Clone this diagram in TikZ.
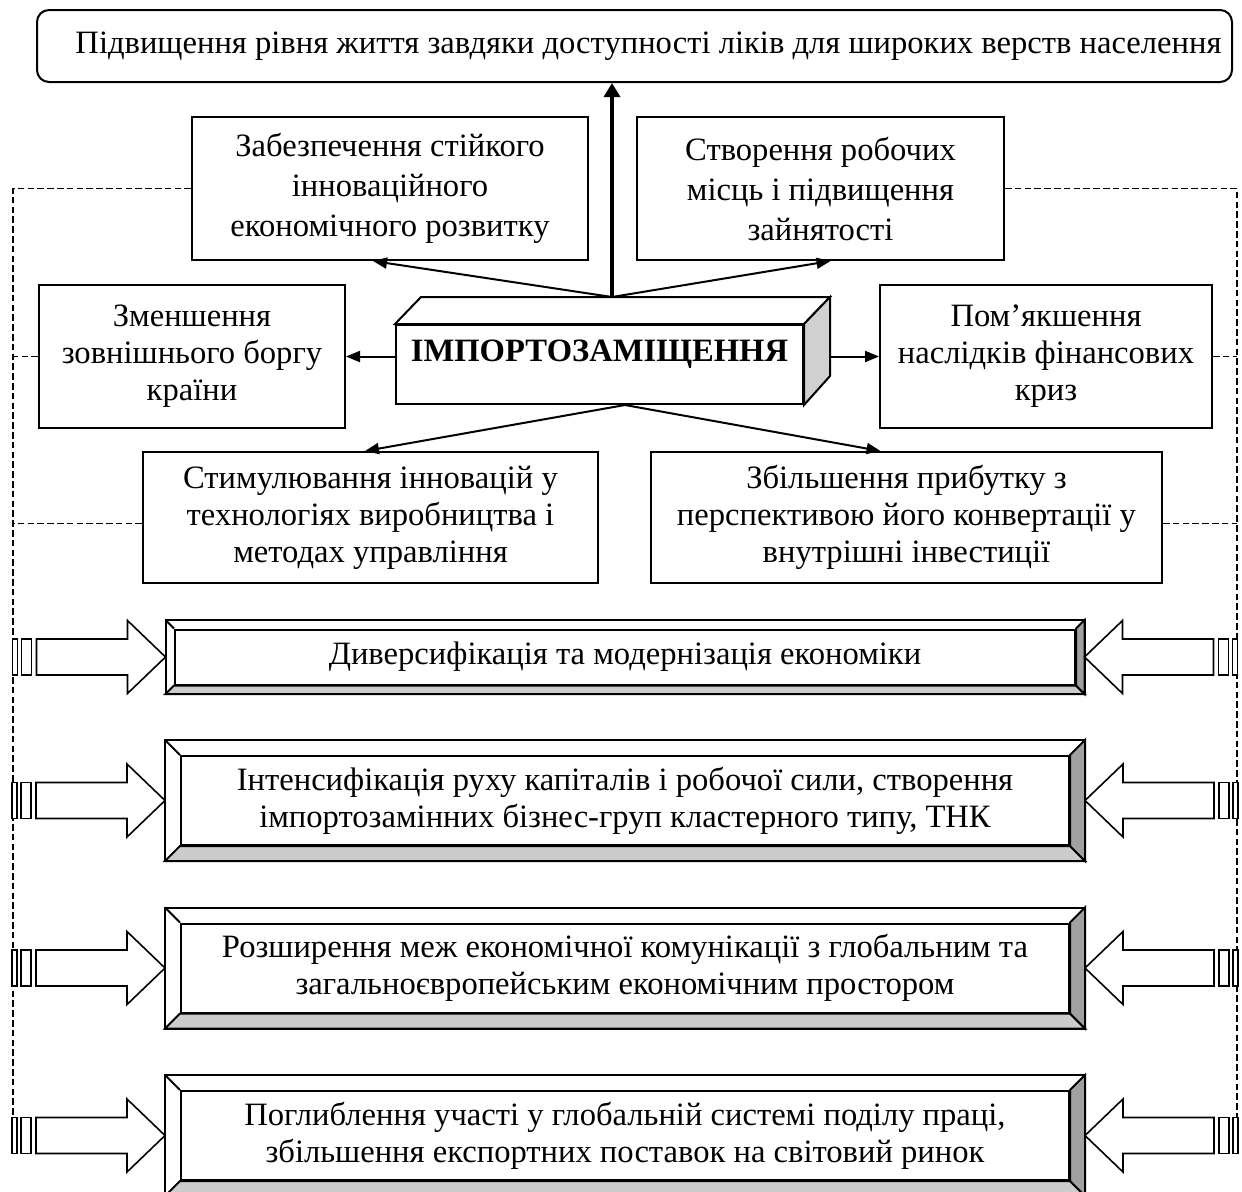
\documentclass[tikz,border=0pt]{standalone}
\usepackage{fontspec}
\setmainfont{Liberation Serif}
\usetikzlibrary{arrows.meta,positioning}
\definecolor{sidegrey}{gray}{0.82}
\definecolor{bevellight}{gray}{0.80}
\definecolor{beveldark}{gray}{0.63}

\begin{document}
\begin{tikzpicture}[x=0.5pt,y=-0.5pt,>={Triangle[length=7pt,width=5.5pt]},
    line width=1pt,font=\fontsize{16.3}{18.5}\selectfont,
    box/.style={draw,align=center,inner sep=0pt},
    bigarrow/.style={line width=1.7pt,-{Triangle[length=7pt,width=8pt]}},
    dashline/.style={dash pattern=on 3.3pt off 1.6pt,line width=0.9pt},
    blockarrow/.style={draw,fill=white,line width=0.8pt}]
  \useasboundingbox (0,0) rectangle (1242,1191);

  \node[box,rounded corners=6pt,minimum width=597.5pt,minimum height=36pt] (life) at (634.5,46)
    {\hspace*{14pt}Підвищення рівня життя завдяки доступності ліків для широких верств населення};

  \node[box,minimum width=198pt,minimum height=71.5pt,font=\fontsize{16.3}{20}\selectfont] (zab) at (390,188.5)
    {Забезпечення стійкого\\ інноваційного\\ економічного розвитку};
  \node[box,minimum width=183.5pt,minimum height=71.5pt,font=\fontsize{16.3}{20}\selectfont] (stv) at (820.5,188.5)
    {Створення робочих\\ місць і підвищення\\ зайнятості};
  \node[box,minimum width=153pt,minimum height=71.5pt] (zme) at (192,356.5)
    {Зменшення\\ зовнішнього боргу\\ країни};
  \node[box,minimum width=166pt,minimum height=71.5pt] (pom) at (1046,356.5)
    {Пом’якшення\\ наслідків фінансових\\ криз};
  \node[box,minimum width=227.5pt,minimum height=65.5pt] (stym) at (370.5,517.5)
    {Стимулювання інновацій у\\ технологіях виробництва і\\ методах управління};
  \node[box,minimum width=255.5pt,minimum height=65.5pt] (zbil) at (906.5,517.5)
    {Збільшення прибутку з\\ перспективою його конвертації у\\ внутрішні інвестиції};

  \node[draw,fill=white,inner sep=0pt,minimum width=203.5pt,text height=18pt,text depth=21.5pt,
    font=\fontsize{16.3}{18.5}\selectfont\bfseries] (imp) at (599.5,364.5) {ІМПОРТОЗАМІЩЕННЯ};
  \coordinate (imptop) at ([shift={(12.5,-27)}]imp.north);
  \coordinate (impbot) at ([xshift=12.75pt]imp.south);

  \draw[->] (imptop) -- ([xshift=-8.5pt]zab.south);
  \draw[->] (imptop) -- ([xshift=5pt]stv.south);
  \draw[bigarrow] (imptop) -- (imptop |- life.south);
  \draw[->] (impbot) -- ([xshift=-2.75pt]stym.north);
  \draw[->] (impbot) -- ([xshift=-13pt]zbil.north);
  \draw[->] (zme.east -| imp.west) -- (zme.east);
  \draw[->] (pom.west -| imp.east) -- (pom.west);
  \draw[fill=white] (imp.north west) -- ++(26,-27) -- ([shift={(26,-27)}]imp.north east) -- (imp.north east) -- cycle;
  \draw[fill=sidegrey] (imp.north east) -- ++(26,-27) -- ++(0,79) -- (imp.south east) -- cycle;

  \coordinate (dl) at (13,1118);
  \coordinate (dr) at (1237,1118);
  \path ([yshift=-3pt]stym.west) coordinate (stymw);
  \path ([yshift=-3pt]zbil.east) coordinate (zbile);
  \draw[dashline] (zab.west) -| (dl);
  \draw[dashline] (zme.west) -- (zme.west -| dl);
  \draw[dashline] (stymw) -- (stymw -| dl);
  \draw[dashline] (stv.east) -| (dr);
  \draw[dashline] (pom.east) -- (pom.east -| dr);
  \draw[dashline] (zbile) -- (zbile -| dr);

  \foreach \n/\yc/\w/\h/\b/\txt in {
      div/657/450pt/27.5pt/8.5/{Диверсифікація та модернізація економіки},
      inten/800.5/444pt/44.5pt/15/{Інтенсифікація руху капіталів і робочої сили, створення\\ імпортозамінних бізнес-груп кластерного типу, ТНК},
      rozsh/968/444pt/44.5pt/15/{Розширення меж економічної комунікації з глобальним та\\ загальноєвропейським економічним простором},
      pogl/1135.5/444pt/44.5pt/15/{Поглиблення участі у глобальній системі поділу праці,\\ збільшення експортних поставок на світовий ринок}} {
    \node[box,minimum width=\w,minimum height=\h] (\n) at (625,\yc) {\txt};
    \draw ([shift={(-\b,-\b)}]\n.north west) rectangle ([shift={(\b,\b)}]\n.south east);
    \draw[fill=bevellight] ([shift={(-\b,\b)}]\n.south west) -- (\n.south west) -- (\n.south east) -- ([shift={(\b,\b)}]\n.south east) -- cycle;
    \draw[fill=beveldark] ([shift={(\b,-\b)}]\n.north east) -- (\n.north east) -- (\n.south east) -- ([shift={(\b,\b)}]\n.south east) -- cycle;
    \draw (\n.north west) -- ++(-\b,-\b);
    \foreach \s/\a in {-1/west,1/east} {
      \path ([shift={(\s*\b,0)}]\n.\a) coordinate (tip);
      \draw[blockarrow] (tip) -- ++(\s*38,-36.5) -- ++(0,18.5) -- ++(\s*91,0) -- ++(0,36) -- ++(\s*-91,0) -- ++(0,18.5) -- cycle;
      \draw[blockarrow] ([shift={(\s*134,-18)}]tip) rectangle ++(\s*10,36);
      \draw[blockarrow] ([shift={(\s*148,-18)}]tip) rectangle ++(\s*5,36);
    }
  }
\end{tikzpicture}
\end{document}
